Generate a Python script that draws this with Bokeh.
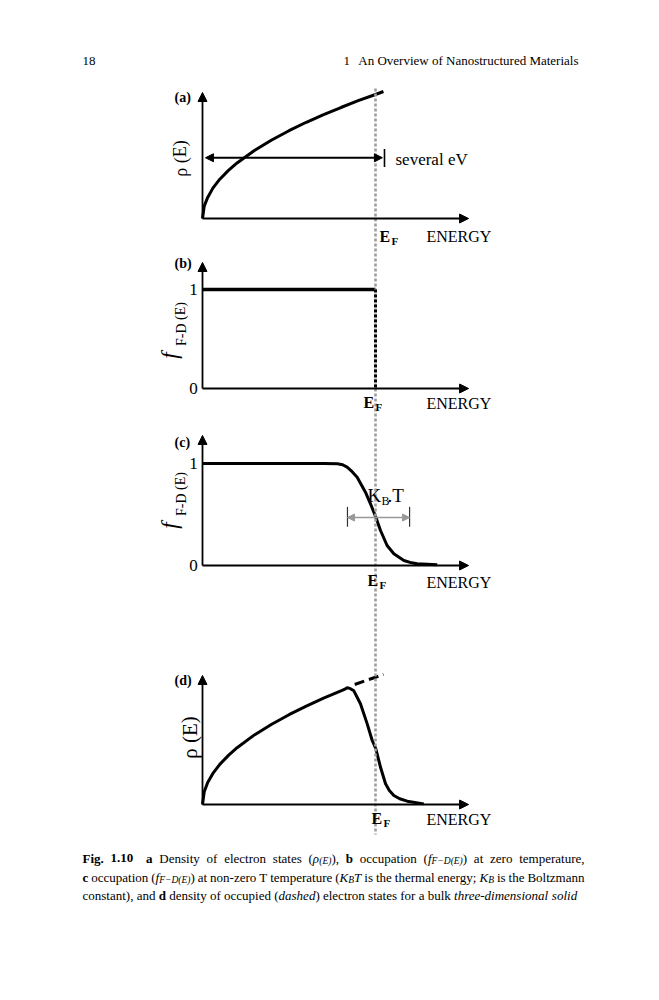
from bokeh.plotting import figure
from bokeh.models import Range1d, Arrow, NormalHead, ColumnDataSource
from bokeh.core.properties import value, field
from bokeh.embed import file_html
from bokeh.resources import INLINE

# ---------------- data (energy in units of E_F) ----------------
a_energy = [0.0, 0.01, 0.03, 0.06, 0.10, 0.15, 0.20, 0.30, 0.40, 0.50, 0.60, 0.70, 0.80, 0.90, 1.00, 1.046]
a_density = [0.0, 0.10, 0.17, 0.245, 0.317, 0.388, 0.448, 0.548, 0.633, 0.708, 0.776, 0.838, 0.895, 0.950, 1.000, 1.024]

b_energy = [0.0, 1.0]
b_occupation = [1.0, 1.0]
b_edge_energy = [1.0, 1.0]
b_edge_occupation = [1.0, 0.0]

c_energy = [0.0, 0.70, 0.78, 0.81, 0.836, 0.865, 0.894, 0.942, 0.971, 1.002, 1.029, 1.067, 1.106, 1.164, 1.20, 1.241, 1.357]
c_occupation = [1.0, 1.0, 0.997, 0.988, 0.964, 0.92, 0.866, 0.719, 0.605, 0.474, 0.343, 0.196, 0.115, 0.049, 0.030, 0.017, 0.008]

d_energy = [0.0, 0.01, 0.03, 0.06, 0.10, 0.15, 0.20, 0.30, 0.40, 0.50, 0.60, 0.70, 0.80, 0.82, 0.836,
            0.855, 0.875, 0.913, 0.952, 0.981, 1.002, 1.029, 1.058, 1.08, 1.106, 1.14, 1.183, 1.279]
d_density = [0.0, 0.10, 0.173, 0.245, 0.316, 0.387, 0.447, 0.548, 0.632, 0.707, 0.775, 0.837, 0.894, 0.906, 0.92,
             0.912, 0.895, 0.793, 0.635, 0.504, 0.439, 0.293, 0.163, 0.11, 0.071, 0.045, 0.026, 0.005]
d_dashed_energy = [0.88, 1.046]
d_dashed_density = [0.945, 1.024]

fermi_energy = 1.0
several_ev_span = [0.017, 1.04]
several_ev_level = 0.49
several_ev_tick = 1.052
kT_span = [0.838, 1.197]
kT_level = 0.47
tick_values = [0, 1]
tick_labels = ["0", "1"]

# ---------------- layout ----------------
FONT = value("Liberation Serif")
W, H = 643, 980
PX0, PY0 = 0, 0
E0_PX, EF_PX = 202.0, 375.0
PPE = EF_PX - E0_PX
# panel: (page y of value 0, page y of value 1, axis top value)
panels = {"a": (218.0, 94.0, 1.016), "b": (388.0, 289.0, 1.273),
          "c": (565.0, 463.0, 1.275), "d": (804.0, 677.0, 1.016)}
X_AXIS_END = 1.538

p = figure(width=W, height=H, x_range=Range1d(PX0, PX0 + W), y_range=Range1d(PY0 + H, PY0),
           output_backend="svg", toolbar_location=None, min_border=0,
           x_axis_location=None, y_axis_location=None)
p.grid.visible = False
p.outline_line_color = None
p.background_fill_color = "white"
p.border_fill_color = "white"

p.extra_x_ranges = {"E": Range1d((PX0 - E0_PX) / PPE, (PX0 + W - E0_PX) / PPE)}
p.extra_y_ranges = {k: Range1d((y0 - (PY0 + H)) / (y0 - y1), (y0 - PY0) / (y0 - y1))
                    for k, (y0, y1, _) in panels.items()}

# axes with arrow heads
for k, (y0, y1, top) in panels.items():
    p.add_layout(Arrow(end=NormalHead(size=9, fill_color="black", line_color="black"),
                       x_start=0, y_start=0, x_end=X_AXIS_END, y_end=0,
                       line_width=1.8, line_color="black", x_range_name="E", y_range_name=k))
    p.add_layout(Arrow(end=NormalHead(size=9, fill_color="black", line_color="black"),
                       x_start=0, y_start=0, x_end=0, y_end=top,
                       line_width=1.8, line_color="black", x_range_name="E", y_range_name=k))

# curves
p.line(a_energy, a_density, line_width=3, color="black", x_range_name="E", y_range_name="a")
p.line(b_energy, b_occupation, line_width=3.5, color="black", x_range_name="E", y_range_name="b")
p.line(c_energy, c_occupation, line_width=3, color="black", x_range_name="E", y_range_name="c")
p.line(d_energy, d_density, line_width=3, color="black", x_range_name="E", y_range_name="d")
p.line(d_dashed_energy, d_dashed_density, line_width=3, color="black", line_dash="10 5",
       x_range_name="E", y_range_name="d")

# Fermi level dotted line across all panels
p.line([fermi_energy, fermi_energy], [88, 834], line_width=2.6, color="#9e9e9e", line_dash="3 2",
       x_range_name="E")
p.line(b_edge_energy, b_edge_occupation, line_width=3, color="black", line_dash="3 2",
       x_range_name="E", y_range_name="b")

# several eV arrow
p.add_layout(Arrow(start=NormalHead(size=8, fill_color="black", line_color="black"),
                   end=NormalHead(size=8, fill_color="black", line_color="black"),
                   x_start=several_ev_span[0], y_start=several_ev_level,
                   x_end=several_ev_span[1], y_end=several_ev_level,
                   line_width=1.8, line_color="black", x_range_name="E", y_range_name="a"))
p.segment(x0=[several_ev_tick], y0=[several_ev_level - 0.075], x1=[several_ev_tick], y1=[several_ev_level + 0.07],
          line_width=1.6, color="black", x_range_name="E", y_range_name="a")

# kT arrow
p.add_layout(Arrow(start=NormalHead(size=7, fill_color="#999999", line_color="#999999"),
                   end=NormalHead(size=7, fill_color="#999999", line_color="#999999"),
                   x_start=kT_span[0], y_start=kT_level, x_end=kT_span[1], y_end=kT_level,
                   line_width=1.5, line_color="#999999", x_range_name="E", y_range_name="c"))
p.segment(x0=kT_span, y0=[kT_level - 0.09] * 2, x1=kT_span, y1=[kT_level + 0.105] * 2,
          line_width=1.2, color="#333333", x_range_name="E", y_range_name="c")


def txt(x, y, s, size, style="normal", align="left", baseline="middle", angle=0.0, **kw):
    p.text(x=[x], y=[y], text=[s], text_font=FONT, text_font_size=f"{size}px",
           text_font_style=style, text_align=align, text_baseline=baseline,
           angle=angle, text_color="black", **kw)


# tick labels 0/1 in panels b and c
for k in ("b", "c"):
    p.text(x=[193, 193], y=tick_values, text=tick_labels, text_font=FONT, text_font_size="17px",
           text_align="center", text_baseline="middle", text_color="black", y_range_name=k)

# panel letters
for lab, yy in zip(["(a)", "(b)", "(c)", "(d)"], [97, 263, 442, 680]):
    txt(174, yy, lab, 14, "bold")

# ENERGY and E_F labels
for yy in [236, 403, 582, 819]:
    txt(426, yy, "ENERGY", 16)
for ex, ey in [(379, 236), (363, 402), (367, 580), (371, 818)]:
    txt(ex, ey, "E", 16, "bold")
    txt(ex + 12, ey + 4.5, "F", 11, "bold")

# y labels
txt(180, 158, "ρ (E)", 18, align="center", angle=1.5708)
txt(189, 737, "ρ (E)", 21, align="center", angle=1.5708)
for dy in (0, 170):
    txt(169, 355 + dy, "f", 23, "italic", align="center", angle=1.5708)
    txt(180.5, 323.5 + dy, "F-D (E)", 14, align="center", angle=1.5708)

txt(395, 159, "several eV", 17)
txt(367, 495, "K", 19)
txt(381, 500, "B", 12)
txt(387, 495, ".T", 19)

# header
txt(82, 60, "18", 13)
txt(343, 60, "1", 13)
txt(578, 60, "An Overview of Nanostructured Materials", 13, align="right")

# ---------------- caption ----------------
W_REG = {' ': 250, '(': 333, ')': 333, ',': 250, '-': 333, '.': 250, ';': 278, 'A': 722, 'B': 667,
         'D': 722, 'E': 611, 'F': 556, 'K': 722, 'T': 611, 'a': 444, 'b': 500, 'c': 444, 'd': 500,
         'e': 444, 'f': 333, 'g': 500, 'h': 500, 'i': 278, 'k': 500, 'l': 278, 'm': 778, 'n': 500,
         'o': 500, 'p': 500, 'r': 333, 's': 389, 't': 278, 'u': 500, 'v': 500, 'w': 722, 'y': 500,
         'z': 444, 'ρ': 500, '−': 564}
W_IT = {'a': 500, 'b': 500, 'c': 444, 'd': 500, 'e': 444, 'f': 278, 'h': 500, 'i': 278, 'l': 278,
        'm': 722, 'n': 500, 'o': 500, 'r': 389, 's': 389, 't': 278, 'B': 611, 'D': 722, 'E': 611,
        'F': 611, 'K': 667, 'T': 556, '(': 333, ')': 333, '-': 333, '−': 675, 'ρ': 500}
W_BD = {'F': 611, 'i': 278, 'g': 500, '.': 250, '1': 500, '0': 500, 'a': 500, 'b': 556, 'c': 444,
        'd': 556, 'E': 667}
TABLES = {"normal": W_REG, "italic": W_IT, "bold": W_BD}
CAP, SUB = 13.0, 9.5


def run_w(s, style, size):
    t = TABLES[style]
    return sum(t.get(ch, W_REG.get(ch, 500)) for ch in s) * size / 1000.0


N, I, B = "normal", "italic", "bold"
caption_lines = [
    [[("Fig.", B, 0)], [("1.10", B, 0)], [("a", B, 0)], [("Density", N, 0)], [("of", N, 0)],
     [("electron", N, 0)], [("states", N, 0)],
     [("(", N, 0), ("ρ", I, 0), ("(E)", I, 1), ("),", N, 0)],
     [("b", B, 0)], [("occupation", N, 0)],
     [("(", N, 0), ("f", I, 0), ("F−D(E)", I, 1), (")", N, 0)],
     [("at", N, 0)], [("zero", N, 0)], [("temperature,", N, 0)]],
    [[("c", B, 0)], [("occupation", N, 0)],
     [("(", N, 0), ("f", I, 0), ("F−D(E)", I, 1), (")", N, 0)],
     [("at", N, 0)], [("non-zero", N, 0)], [("T", N, 0)], [("temperature", N, 0)],
     [("(", N, 0), ("K", I, 0), ("B", I, 1), ("T", I, 0)], [("is", N, 0)], [("the", N, 0)],
     [("thermal", N, 0)], [("energy;", N, 0)], [("K", I, 0), ("B", I, 1)], [("is", N, 0)],
     [("the", N, 0)], [("Boltzmann", N, 0)]],
    [[("constant),", N, 0)], [("and", N, 0)], [("d", B, 0)], [("density", N, 0)], [("of", N, 0)],
     [("occupied", N, 0)], [("(", N, 0), ("dashed", I, 0), (")", N, 0)], [("electron", N, 0)],
     [("states", N, 0)], [("for", N, 0)], [("a", N, 0)], [("bulk", N, 0)],
     [("three-dimensional", I, 0)], [("solid", I, 0)]],
]
line_baselines = [857.5, 876.5, 894.5]
justify = [True, True, False]
LEFT, RIGHT = 82.0, 584.0

cx, cy, ct, cs, cf = [], [], [], [], []
for words, base, just in zip(caption_lines, line_baselines, justify):
    widths = [sum(run_w(s, st, SUB if sub else CAP) for s, st, sub in w) for w in words]
    extra = [0.0] * len(words)
    if words[0][0][0] == "Fig.":
        extra[2] = 6.0
    if just:
        gap = (RIGHT - LEFT - sum(widths) - sum(extra)) / (len(words) - 1)
    else:
        gap = 0.25 * CAP
    x = LEFT
    for w, wd, ex in zip(words, widths, extra):
        x += ex
        for s, st, sub in w:
            size = SUB if sub else CAP
            cx.append(x)
            cy.append(base + (3.0 if sub else 0.0))
            ct.append(s)
            cs.append(st)
            cf.append(f"{size}px")
            x += run_w(s, st, size)
        x += gap

cap_src = ColumnDataSource(dict(x=cx, y=cy, text=ct, style=cs, fs=cf))
p.text(x="x", y="y", text="text", source=cap_src, text_font=FONT, text_font_size=field("fs"),
       text_font_style=field("style"), text_align="left", text_baseline="alphabetic", text_color="black")

open("out.html", "w").write(file_html(p, INLINE))
